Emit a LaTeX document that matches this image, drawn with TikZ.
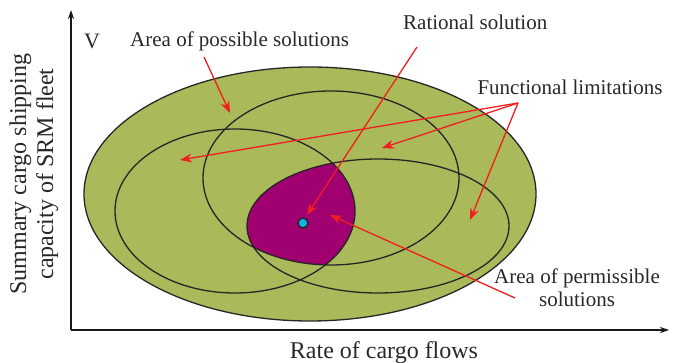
\documentclass[tikz,border=0pt]{standalone}
\usepackage{fontspec}
\setmainfont{Liberation Serif}
\usetikzlibrary{arrows.meta}
\definecolor{olivefill}{RGB}{170,185,90}
\definecolor{purplefill}{RGB}{160,0,112}
\definecolor{dotblue}{RGB}{20,175,230}
\definecolor{arrred}{RGB}{240,30,30}
\definecolor{txt}{RGB}{40,40,40}
\tikzset{
  contour/.style={draw=black!85, line width=1.3pt},
  redarrow/.style={draw=arrred, line width=1.3pt, -{Stealth[length=12pt,width=9pt,inset=4pt]}},
  axisline/.style={draw=black!90, line width=1.4pt},
  lbl/.style={text=txt, font=\fontsize{21}{23}\selectfont, inner sep=0pt},
  axlbl/.style={text=txt, font=\fontsize{24}{27}\selectfont, inner sep=0pt, align=center},
}
\begin{document}
\begin{tikzpicture}[x=1pt,y=-1pt]
\useasboundingbox (0,0) rectangle (676,363);
% big ellipse
\fill[olivefill] (310,194) ellipse [x radius=226pt, y radius=127pt];
\draw[contour] (310,194) ellipse [x radius=226pt, y radius=127pt];
% purple intersection
\begin{scope}
  \clip (235,211) ellipse [x radius=120pt, y radius=82pt];
  \clip (331,178) ellipse [x radius=128pt, y radius=87pt];
  \fill[purplefill] (378,226) ellipse [x radius=131pt, y radius=67pt];
\end{scope}
\draw[contour] (235,211) ellipse [x radius=120pt, y radius=82pt];
\draw[contour] (331,178) ellipse [x radius=128pt, y radius=87pt];
\draw[contour] (378,226) ellipse [x radius=131pt, y radius=67pt];
% axes
\coordinate (origin) at (71,330);
\coordinate (ytip) at (71,10);
\coordinate (xtip) at (669,330);
\draw[axisline, -{Stealth[length=9pt,width=6pt]}] (origin) -- (ytip);
\draw[axisline, -{Stealth[length=9pt,width=6pt]}] (origin) -- (xtip);
% labels
\node[lbl, font=\fontsize{22}{24}\selectfont] (V) at (92,41) {V};
\node[lbl, anchor=west] (possible) at (130,41) {Area of possible solutions};
\node[lbl, anchor=west] (rational) at (403,22) {Rational solution};
\node[lbl] (functional) at (570,87) {Functional limitations};
\node[lbl, align=center] (permissible) at (577,288) {Area of permissible\\solutions};
\node[axlbl] (xlabel) at (384,353) {Rate of cargo flows};
\node[axlbl, rotate=90] (ylabel) at (34,174) {Summary cargo shipping\\capacity of SRM fleet};
% arrow endpoints
\coordinate (possS) at (204,57);
\coordinate (possE) at (230,113);
\coordinate (ratS) at (417,47);
\coordinate (ratE) at (307,215);
\coordinate (funS) at (518,103);
\coordinate (fun1) at (180,160);
\coordinate (fun2) at (382,148);
\coordinate (fun3) at (470,220);
\coordinate (perS) at (515,298);
\coordinate (perE) at (330,215);
% arrows
\draw[redarrow] (possS) -- (possE);
\draw[redarrow] (ratS) -- (ratE);
\draw[redarrow] (funS) -- (fun1);
\draw[redarrow] (funS) -- (fun2);
\draw[redarrow] (funS) -- (fun3);
\draw[redarrow] (perS) -- (perE);
% rational point
\node[circle, fill=dotblue, draw=black!85, line width=1.5pt, minimum size=10pt, inner sep=0pt] (dot) at (303,223) {};
\end{tikzpicture}
\end{document}
